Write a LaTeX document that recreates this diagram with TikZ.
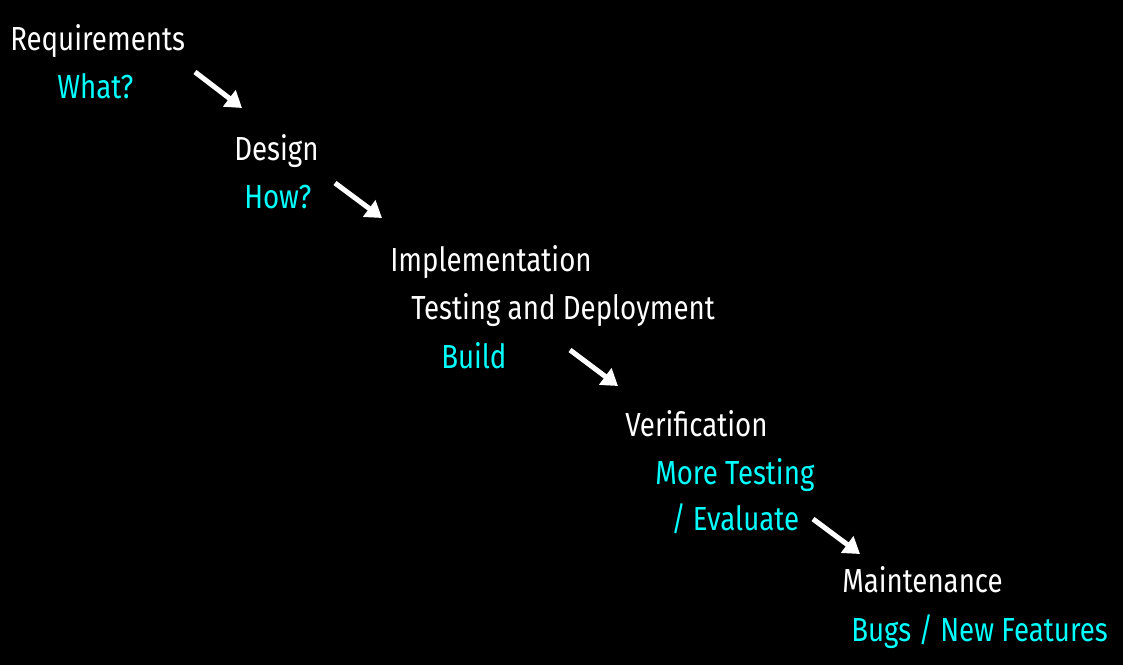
\documentclass[tikz,border=0pt]{standalone}
\usepackage{fontspec}
\setmainfont[FakeStretch=0.83]{Fira Sans}
\usetikzlibrary{arrows.meta}
\definecolor{cy}{RGB}{0,255,255}
\tikzset{
  lbl/.style={anchor=base west, inner sep=0pt, text=white, font=\fontsize{25}{28}\selectfont},
  sub/.style={lbl, text=cy},
  flow/.style={draw=white, line width=3.8pt, -{Triangle[length=12pt,width=15pt]}}
}
\begin{document}
\begin{tikzpicture}[x=0.75pt,y=-0.75pt]
\fill[black] (0,0) rectangle (1123,665);
\useasboundingbox (0,0) rectangle (1123,665);
\node[lbl] (req) at (10,50) {Requirements};
\node[sub] (what) at (57,98) {What?};
\node[lbl] (des) at (234,160) {Design};
\node[sub] (how) at (244,208) {How?};
\node[lbl] (imp) at (390,271) {Implementation};
\node[lbl] (tad) at (411,319) {Testing and Deployment};
\node[sub] (bld) at (441,368) {Build};
\node[lbl] (ver) at (625,436) {Verification};
\node[sub] (mt) at (655,484) {More Testing};
\node[sub] (ev) at (671,530) {/ Evaluate};
\node[lbl] (mnt) at (842,592) {Maintenance};
\node[sub] (bug) at (851,641) {Bugs / New Features};
\coordinate (a1s) at (195,72); \coordinate (a1e) at (242,108);
\coordinate (a2s) at (335,183); \coordinate (a2e) at (382,218);
\coordinate (a3s) at (570,350); \coordinate (a3e) at (618,386);
\coordinate (a4s) at (813,519); \coordinate (a4e) at (860,554);
\draw[flow] (a1s) -- (a1e);
\draw[flow] (a2s) -- (a2e);
\draw[flow] (a3s) -- (a3e);
\draw[flow] (a4s) -- (a4e);
\end{tikzpicture}
\end{document}
